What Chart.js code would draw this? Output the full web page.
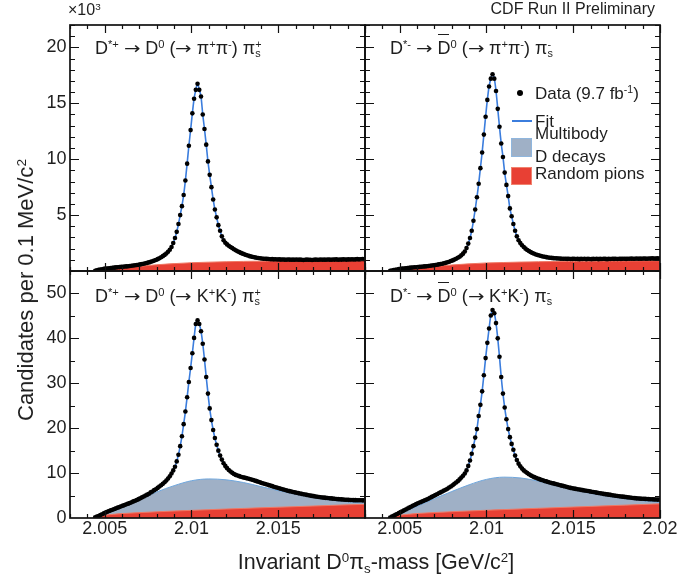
<!DOCTYPE html>
<html><head><meta charset="utf-8">
<script src="https://cdn.jsdelivr.net/npm/chart.js@4.4.1/dist/chart.umd.min.js"></script>
<style>
html,body{margin:0;padding:0;background:#fff;}
#wrap{position:relative;width:678px;height:586px;overflow:hidden;font-family:"Liberation Sans",Arial,sans-serif;color:#1e1e1e;}
canvas{position:absolute;left:0;top:0;}
.t{position:absolute;white-space:nowrap;line-height:1;}
sup,sub{line-height:0;font-size:0.62em;}
sup{vertical-align:0.55em;} sub{vertical-align:-0.28em;}
.ss{display:inline-block;font-size:0.6em;line-height:0.85;vertical-align:-0.3em;text-align:left;}
.bar{position:relative;display:inline-block;}
.bar::before{content:"";position:absolute;left:1px;right:1px;top:-5px;border-top:1.5px solid #1e1e1e;}
.ar{font-family:"DejaVu Sans",sans-serif;font-size:0.95em;display:inline-block;transform:scaleX(1.15);margin:0 1px;}
</style></head><body><div id="wrap">
<canvas id="cTL" width="678" height="586"></canvas>
<canvas id="cTR" width="678" height="586"></canvas>
<canvas id="cBL" width="678" height="586"></canvas>
<canvas id="cBR" width="678" height="586"></canvas>

<div class="t" style="left:68px;top:2px;font-size:16px;">×10<sup>3</sup></div>
<div class="t" style="right:23px;top:0.5px;font-size:16px;">CDF Run II Preliminary</div>

<div class="t" style="left:95px;top:38.5px;font-size:18px;">D<sup>*+</sup> <span class="ar">→</span> D<sup>0</sup> (<span class="ar">→</span> π<sup>+</sup>π<sup>-</sup>) π<span class="ss">+<br>s</span></div>
<div class="t" style="left:390px;top:38.5px;font-size:18px;">D<sup>*-</sup> <span class="ar">→</span> <span class="bar">D</span><sup>0</sup> (<span class="ar">→</span> π<sup>+</sup>π<sup>-</sup>) π<span class="ss">-<br>s</span></div>
<div class="t" style="left:95px;top:287px;font-size:18px;">D<sup>*+</sup> <span class="ar">→</span> D<sup>0</sup> (<span class="ar">→</span> K<sup>+</sup>K<sup>-</sup>) π<span class="ss">+<br>s</span></div>
<div class="t" style="left:390px;top:286.5px;font-size:18px;">D<sup>*-</sup> <span class="ar">→</span> <span class="bar">D</span><sup>0</sup> (<span class="ar">→</span> K<sup>+</sup>K<sup>-</sup>) π<span class="ss">-<br>s</span></div>

<!-- legend -->
<div style="position:absolute;left:517px;top:90px;width:6px;height:6px;border-radius:50%;background:#000;"></div>
<div class="t" style="left:535px;top:84.5px;font-size:17px;">Data (9.7 fb<sup>-1</sup>)</div>
<div style="position:absolute;left:512px;top:120px;width:20px;height:2px;background:#3b7ddd;"></div>
<div class="t" style="left:535px;top:112.5px;font-size:17px;">Fit</div>
<div class="t" style="left:535px;top:124.5px;font-size:17px;">Multibody</div>
<div style="position:absolute;left:511px;top:138px;width:19px;height:17px;background:#9fb0c6;border:1px solid #8fb6de;"></div>
<div class="t" style="left:535px;top:147.5px;font-size:17px;">D decays</div>
<div style="position:absolute;left:511px;top:167px;width:19px;height:16px;background:rgb(232,64,52);border:1px solid rgb(240,130,110);"></div>
<div class="t" style="left:535px;top:164.5px;font-size:17px;">Random pions</div>

<div class="t" style="left:26px;top:290px;font-size:22px;line-height:22px;transform:translate(-50%,-50%) rotate(-90deg);">Candidates per 0.1 MeV/c<sup>2</sup></div>
<div class="t" style="left:376px;top:551.5px;font-size:21.5px;transform:translateX(-50%);">Invariant D<sup>0</sup>π<sub>s</sub>-mass [GeV/c<sup>2</sup>]</div>
</div>
<script>
// ---- binning of the histograms (0.1 MeV/c^2 bins) ----
const BIN_START = 2.00445;
const BIN_WIDTH = 0.0001;

// ---- tick labels ----
const xTickValues = [2.005, 2.01, 2.015, 2.02];
const xTickLabels = ['2.005', '2.01', '2.015', '2.02'];
const yTicksTop = [5, 10, 15, 20];
const yTicksBottom = [0, 10, 20, 30, 40, 50];

// ---- D*+ -> D0(pi pi) pi_s+  (x10^3) ----
const tlData = [
0.02,0.06,0.10,0.13,0.16,0.19,0.21,0.23,0.25,0.27,
0.29,0.30,0.32,0.34,0.35,0.37,0.38,0.40,0.41,0.43,
0.45,0.47,0.49,0.51,0.53,0.56,0.59,0.62,0.65,0.69,
0.73,0.77,0.82,0.87,0.93,0.99,1.06,1.14,1.23,1.33,
1.44,1.57,1.72,1.90,2.15,2.50,2.95,3.50,4.20,5.00,
5.80,6.80,8.10,9.60,11.20,12.60,14.10,15.40,16.20,
16.75,
16.20,15.60,14.00,12.70,11.30,9.80,8.60,7.50,6.40,5.50,
4.80,4.10,3.60,3.10,2.75,2.52,2.38,2.26,2.15,2.05,
1.95,1.86,1.77,1.69,1.62,1.55,1.49,1.43,1.38,1.33,
1.29,1.25,1.22,1.19,1.16,1.14,1.12,1.10,1.09,1.08,
1.07,1.05,1.06,1.04,1.05,1.03,1.04,1.02,1.03,1.02,
1.01,1.03,1.02,1.00,1.02,1.01,1.03,1.00,1.02,1.01,
0.99,1.01,1.02,1.00,1.01,0.99,1.01,1.02,1.00,1.01,
1.03,1.00,1.02,1.01,1.03,1.02,1.00,1.03,1.02,1.04,
1.01,1.03,1.02,1.04,1.03,1.02,1.04,1.03,1.05,1.03,
1.04,1.06,1.04,1.05,1.07,1.06];

// ---- D*- -> D0bar(pi pi) pi_s-  (x10^3) ----
const trData = [
0.02,0.05,0.08,0.11,0.14,0.17,0.19,0.21,0.23,0.25,
0.27,0.28,0.30,0.31,0.33,0.34,0.35,0.37,0.38,0.40,
0.41,0.43,0.45,0.47,0.49,0.51,0.53,0.56,0.59,0.62,
0.65,0.69,0.73,0.78,0.83,0.89,0.95,1.02,1.10,1.18,
1.28,1.40,1.55,1.75,2.05,2.45,2.95,3.60,4.50,5.50,
6.60,7.80,9.20,10.60,12.20,13.80,15.30,16.50,17.20,
17.60,
17.20,16.10,14.50,12.90,11.40,10.20,8.80,7.70,6.70,5.60,
4.90,4.20,3.60,3.10,2.75,2.50,2.30,2.14,2.00,1.88,
1.78,1.69,1.61,1.54,1.48,1.43,1.38,1.34,1.30,1.27,
1.24,1.21,1.19,1.17,1.15,1.14,1.13,1.12,1.11,1.10,
1.09,1.10,1.08,1.09,1.07,1.08,1.09,1.07,1.08,1.06,
1.08,1.07,1.09,1.06,1.08,1.07,1.06,1.08,1.07,1.09,
1.06,1.08,1.07,1.09,1.08,1.06,1.08,1.07,1.09,1.08,
1.10,1.07,1.09,1.08,1.10,1.09,1.08,1.10,1.09,1.11,
1.09,1.10,1.12,1.10,1.11,1.09,1.12,1.11,1.10,1.12,
1.11,1.13,1.11,1.12,1.14,1.12];

// ---- D*+ -> D0(K K) pi_s+ ----
const blData = [
0.15,0.30,0.45,0.65,0.84,1.02,1.20,1.38,1.55,1.70,
1.85,2.00,2.15,2.30,2.45,2.60,2.75,2.90,3.05,3.20,
3.35,3.50,3.70,3.85,4.00,4.20,4.40,4.60,4.80,5.00,
5.20,5.40,5.70,5.90,6.20,6.40,6.70,7.00,7.30,7.60,
7.95,8.35,8.80,9.30,9.90,10.60,11.40,12.60,14.10,16.00,
18.20,20.90,23.70,26.90,30.30,33.40,36.70,40.10,43.20,
44.00,
43.20,41.60,38.80,35.30,31.40,27.70,24.40,21.80,19.60,17.80,
16.30,15.00,13.90,13.00,12.20,11.60,11.10,10.70,10.35,10.05,
9.80,9.60,9.45,9.32,9.20,9.09,8.98,8.88,8.78,8.67,
8.56,8.45,8.33,8.20,8.07,7.94,7.81,7.68,7.56,7.45,
7.33,7.21,7.09,6.97,6.85,6.73,6.62,6.51,6.40,6.29,
6.18,6.08,5.98,5.89,5.80,5.71,5.62,5.54,5.46,5.38,
5.30,5.22,5.14,5.06,4.99,4.92,4.86,4.80,4.74,4.68,
4.63,4.58,4.53,4.48,4.44,4.40,4.36,4.32,4.28,4.24,
4.20,4.17,4.14,4.11,4.08,4.06,4.04,4.02,4.00,3.98,
3.97,3.96,3.95,3.94,3.93,3.92];

// ---- D*- -> D0bar(K K) pi_s- ----
const brData = [
0.10,0.30,0.50,0.70,0.90,1.10,1.30,1.50,1.70,1.90,
2.10,2.30,2.50,2.70,2.90,3.10,3.30,3.45,3.60,3.80,
3.95,4.10,4.30,4.50,4.70,4.90,5.10,5.30,5.50,5.70,
5.90,6.10,6.30,6.50,6.80,7.00,7.30,7.60,7.90,8.20,
8.60,9.00,9.40,9.90,10.60,11.60,12.80,14.30,16.00,17.90,
19.80,22.70,25.20,28.20,31.80,35.60,39.00,42.20,45.10,
46.30,
45.60,43.40,40.00,35.90,31.40,27.70,24.60,22.00,19.80,18.00,
16.50,15.20,13.90,12.90,12.10,11.50,11.00,10.60,10.30,10.00,
9.75,9.50,9.30,9.10,8.95,8.80,8.65,8.50,8.40,8.25,
8.15,8.00,7.90,7.80,7.70,7.60,7.50,7.40,7.30,7.20,
7.10,7.00,6.90,6.80,6.70,6.62,6.55,6.48,6.41,6.34,
6.27,6.20,6.13,6.06,6.00,5.93,5.86,5.79,5.72,5.65,
5.58,5.51,5.44,5.37,5.31,5.25,5.20,5.14,5.08,5.02,
4.96,4.90,4.85,4.80,4.75,4.70,4.65,4.60,4.55,4.50,
4.46,4.42,4.38,4.35,4.32,4.30,4.27,4.25,4.22,4.20,
4.18,4.16,4.14,4.12,4.10,4.10];

// ---- background components (cumulative: multibody is drawn on top of random pions) ----
const compX   = [2.00441,2.0045,2.0047,2.005,2.0055,2.006,2.007,2.008,2.009,2.010,2.011,2.012,2.013,2.014,2.015,2.016,2.017,2.018,2.019,2.020];
const tlRand  = [0,0.03,0.07,0.12,0.20,0.28,0.42,0.56,0.66,0.74,0.79,0.83,0.86,0.88,0.90,0.91,0.92,0.93,0.94,0.95];
const trRand  = [0,0.03,0.07,0.12,0.19,0.27,0.41,0.54,0.64,0.72,0.76,0.80,0.83,0.85,0.87,0.88,0.89,0.90,0.91,0.92];
const blRand  = [0,0.06,0.30,0.60,0.82,0.98,1.20,1.38,1.55,1.70,1.85,2.00,2.13,2.27,2.40,2.53,2.66,2.80,2.93,3.05];
const brRand  = [0,0.06,0.30,0.60,0.82,1.00,1.22,1.40,1.57,1.72,1.87,2.02,2.16,2.30,2.44,2.58,2.72,2.86,3.00,3.15];
const blMulti = [0,0.08,0.35,0.80,1.60,2.40,4.10,5.80,7.20,8.30,8.70,8.50,7.90,7.00,6.10,5.30,4.60,4.00,3.60,3.30];
const brMulti = [0,0.08,0.40,0.90,1.80,2.60,4.30,5.90,7.40,8.60,9.10,8.90,8.20,7.20,6.30,5.50,4.85,4.30,3.85,3.50];

const FONT = {family:"'Liberation Sans', Arial, sans-serif", size:18};
const TXT = '#1e1e1e';

function hist(vals){ return vals.map((v,i)=>({x: +(BIN_START + i*BIN_WIDTH).toFixed(5), y: v})); }
function comp(vals){ return vals.map((v,i)=>({x: compX[i], y: v})); }

function makeFramePlugin(o){
  return {
    id: 'frameTicks',
    afterDraw(chart){
      const ctx = chart.ctx, a = chart.chartArea, x = chart.scales.x, y = chart.scales.y;
      ctx.save();
      ctx.strokeStyle = '#111';
      ctx.lineWidth = 1.2;
      ctx.beginPath();
      const n0 = Math.ceil(x.min/o.xMinor - 1e-6), n1 = Math.floor(x.max/o.xMinor + 1e-6);
      for (let n=n0; n<=n1; n++){
        const px = Math.round(x.getPixelForValue(n*o.xMinor)) + 0.5;
        const L = (n % o.xMajorEvery === 0) ? 8 : 4;
        ctx.moveTo(px, a.bottom); ctx.lineTo(px, a.bottom - L);
        ctx.moveTo(px, a.top); ctx.lineTo(px, a.top + L);
      }
      const m1 = Math.floor(y.max/o.yMinor + 1e-6);
      for (let m=1; m<=m1; m++){
        const py = Math.round(y.getPixelForValue(m*o.yMinor)) + 0.5;
        const L = (m % o.yMajorEvery === 0) ? 9 : 5;
        ctx.moveTo(a.left, py); ctx.lineTo(a.left + L, py);
        ctx.moveTo(a.right, py); ctx.lineTo(a.right - L, py);
      }
      ctx.stroke();
      ctx.lineWidth = 1.7;
      ctx.strokeRect(a.left, a.top, a.right - a.left, a.bottom - a.top);
      ctx.restore();
    }
  };
}

function panel(id, c){
  const ds = [
    {label:'Data', data:hist(c.data), showLine:false, pointRadius:2.3, pointBackgroundColor:'#000', pointBorderWidth:0, pointHoverRadius:0},
    {label:'Fit', data:hist(c.data), borderColor:'#3b7ddd', borderWidth:1.6, pointRadius:0, fill:false, cubicInterpolationMode:'monotone'},
    {label:'Random pions', data:comp(c.rand), borderColor:'rgb(240,120,100)', borderWidth:1, backgroundColor:'rgb(232,64,52)', fill:'origin', pointRadius:0, cubicInterpolationMode:'monotone'}
  ];
  if (c.multi) ds.push({label:'Multibody D decays', data:comp(c.multi), borderColor:'#6fa6dc', borderWidth:1, backgroundColor:'#9fb0c6', fill:'origin', pointRadius:0, cubicInterpolationMode:'monotone'});
  return new Chart(document.getElementById(id), {
    type:'line',
    data:{datasets:ds},
    options:{
      responsive:false, animation:false, events:[],
      layout:{padding:c.padding},
      plugins:{legend:{display:false}, tooltip:{enabled:false}},
      scales:{
        x:{type:'linear', min:2.003, max:2.020, display:c.showX,
           grid:{display:false, drawTicks:false, tickLength:0}, border:{display:false},
           ticks:{autoSkip:false, maxRotation:0, minRotation:0, padding:0, font:FONT, color:TXT,
             callback:(v)=>{ const k = xTickValues.findIndex(t=>Math.abs(t-v)<1e-7); if (k<0) return ''; if (c.hideLastX && k===xTickValues.length-1) return ''; return xTickLabels[k]; }},
           afterBuildTicks:(s)=>{ s.ticks = xTickValues.map(v=>({value:v})); },
           afterFit:(s)=>{ if (c.showX) { s.height = 68; } else { s.height = 0; } s.paddingLeft = 0; s.paddingRight = 0; }},
        y:{type:'linear', min:0, max:c.ymax, display:c.showY,
           grid:{display:false, drawTicks:false, tickLength:0}, border:{display:false},
           ticks:{padding:3.5, font:FONT, color:TXT, callback:(v)=>String(v)},
           afterBuildTicks:(s)=>{ s.ticks = c.yTicks.map(v=>({value:v})); },
           afterFit:(s)=>{ if (c.showY) { s.width = 70; } else { s.width = 0; } s.paddingTop = 0; s.paddingBottom = 0; }}
      }
    },
    plugins:[makeFramePlugin({xMinor:0.001, xMajorEvery:5, yMinor:c.yMinor, yMajorEvery:c.yMajorEvery})]
  });
}

panel('cTL', {data:tlData, rand:tlRand, multi:null, ymax:22, yTicks:yTicksTop, yMinor:1, yMajorEvery:5,
  showX:false, showY:true, padding:{left:0, top:25, right:313, bottom:315}});
panel('cTR', {data:trData, rand:trRand, multi:null, ymax:22, yTicks:yTicksTop, yMinor:1, yMajorEvery:5,
  showX:false, showY:false, padding:{left:365, top:25, right:18, bottom:315}});
panel('cBL', {data:blData, rand:blRand, multi:blMulti, ymax:55, yTicks:yTicksBottom, yMinor:5, yMajorEvery:2,
  showX:true, showY:true, hideLastX:true, padding:{left:0, top:271, right:313, bottom:0}});
panel('cBR', {data:brData, rand:brRand, multi:brMulti, ymax:55, yTicks:yTicksBottom, yMinor:5, yMajorEvery:2,
  showX:true, showY:false, padding:{left:365, top:271, right:18, bottom:0}});
</script>
</body></html>
